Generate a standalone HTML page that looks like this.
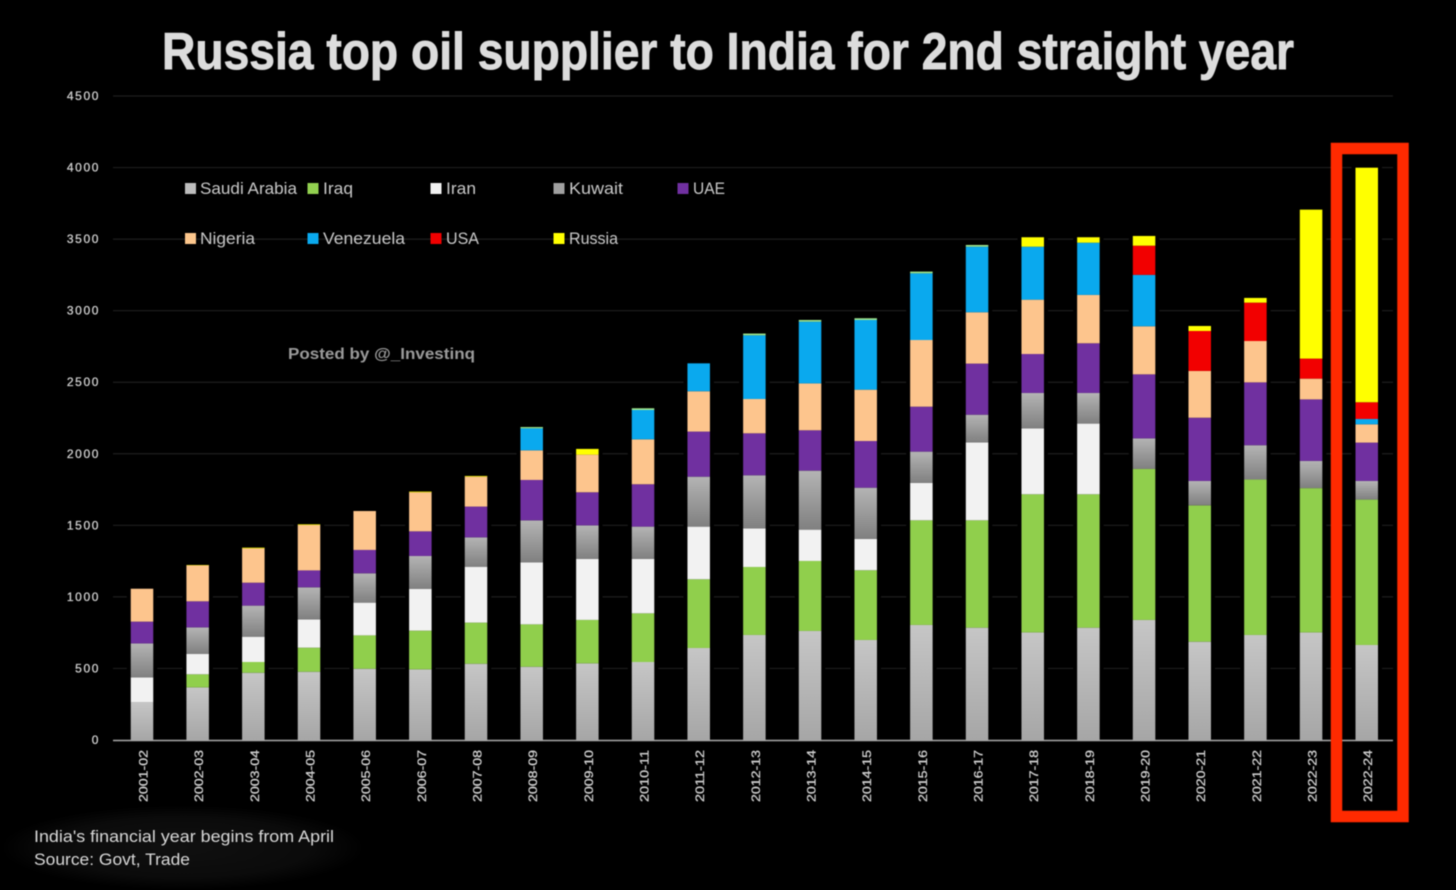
<!DOCTYPE html>
<html lang="en">
<head>
<meta charset="utf-8">
<title>Russia top oil supplier to India for 2nd straight year</title>
<style>
html,body{margin:0;padding:0;background:#000;width:1456px;height:890px;overflow:hidden}
svg{display:block;filter:blur(0.4px)}
text{font-family:"Liberation Sans",sans-serif}
</style>
</head>
<body>
<svg id="chart" xmlns="http://www.w3.org/2000/svg" width="1456" height="890" viewBox="0 0 1456 890">
  <defs>
    <linearGradient id="saudi-gradient" x1="0" y1="0" x2="0" y2="1">
      <stop offset="0" stop-color="#c6c6c6"/><stop offset="1" stop-color="#a6a6a6"/>
    </linearGradient>
    <linearGradient id="kuwait-gradient" x1="0" y1="0" x2="0" y2="1">
      <stop offset="0" stop-color="#b4b4b4"/><stop offset="1" stop-color="#808080"/>
    </linearGradient>
    <radialGradient id="footnote-gradient" cx="0.5" cy="0.5" r="0.5">
      <stop offset="0" stop-color="#101010"/><stop offset="0.7" stop-color="#0b0b0b"/><stop offset="1" stop-color="#000"/>
    </radialGradient>
  </defs>
  <rect x="0" y="0" width="1456" height="890" fill="#000"/>
  <text x="162" y="69" font-size="52" font-weight="700" fill="#dcdcdc" stroke="#dcdcdc" stroke-width="0.9" textLength="1132" lengthAdjust="spacingAndGlyphs">Russia top oil supplier to India for 2nd straight year</text>
  <g id="grid"></g>
  <g id="yticks"></g>
  <g id="bars"></g>
  <line x1="113" y1="740.5" x2="1393" y2="740.5" stroke="#a8a8a8" stroke-width="1.5"/>
  <g id="xticks"></g>

  <g font-size="16.5" fill="#c8c8c8">
    <g><rect x="185" y="183" width="11" height="11" fill="#bdbdbd"/><text x="200" y="194" textLength="97" lengthAdjust="spacingAndGlyphs">Saudi Arabia</text></g>
    <g><rect x="307.500" y="183" width="11" height="11" fill="#92d050"/><text x="323" y="194" textLength="30" lengthAdjust="spacingAndGlyphs">Iraq</text></g>
    <g><rect x="430.500" y="183" width="11" height="11" fill="#f2f2f2"/><text x="446" y="194" textLength="30" lengthAdjust="spacingAndGlyphs">Iran</text></g>
    <g><rect x="553.500" y="183" width="11" height="11" fill="#a0a0a0"/><text x="569" y="194" textLength="54" lengthAdjust="spacingAndGlyphs">Kuwait</text></g>
    <g><rect x="677.500" y="183" width="11" height="11" fill="#7030a0"/><text x="693" y="194" textLength="32" lengthAdjust="spacingAndGlyphs">UAE</text></g>
    <g><rect x="185" y="233" width="11" height="11" fill="#fcc68c"/><text x="200" y="244" textLength="55" lengthAdjust="spacingAndGlyphs">Nigeria</text></g>
    <g><rect x="307.500" y="233" width="11" height="11" fill="#0aa9ee"/><text x="323" y="244" textLength="82" lengthAdjust="spacingAndGlyphs">Venezuela</text></g>
    <g><rect x="430.500" y="233" width="11" height="11" fill="#f00000"/><text x="446" y="244" textLength="33" lengthAdjust="spacingAndGlyphs">USA</text></g>
    <g><rect x="553.500" y="233" width="11" height="11" fill="#ffff00"/><text x="569" y="244" textLength="49" lengthAdjust="spacingAndGlyphs">Russia</text></g>
  </g>

  <text x="288" y="359" font-size="16" font-weight="700" fill="#9a9a9a" textLength="187" lengthAdjust="spacingAndGlyphs">Posted by @_Investinq</text>

  <rect x="1336.500" y="148.500" width="66.500" height="668" fill="none" stroke="#ff2a00" stroke-width="11.500"/>

  <rect x="0" y="805" width="365" height="85" fill="url(#footnote-gradient)"/>
  <text x="34" y="842" font-size="17" fill="#d8d8d8" textLength="300" lengthAdjust="spacingAndGlyphs">India's financial year begins from April</text>
  <text x="34" y="865" font-size="17" fill="#d8d8d8" textLength="156" lengthAdjust="spacingAndGlyphs">Source: Govt, Trade</text>
</svg>

<script>
const categories = ["2001-02","2002-03","2003-04","2004-05","2005-06","2006-07","2007-08","2008-09","2009-10","2010-11","2011-12","2012-13","2013-14","2014-15","2015-16","2016-17","2017-18","2018-19","2019-20","2020-21","2021-22","2022-23","2022-24"];
const yTickLabels = [0,500,1000,1500,2000,2500,3000,3500,4000,4500];

const saudiArabia = [263,368,470,477,498,494,533,512,536,545,643,734,762,699,804,785,752,785,839,687,734,752,664];
const iraq = [0,91,75,168,233,270,287,296,303,340,480,475,489,487,731,750,965,932,1055,953,1086,1008,1016];
const iran = [175,142,177,198,229,293,391,434,426,380,368,270,219,219,261,545,461,494,0,0,0,0,0];
const kuwait = [237,186,217,224,205,229,205,293,235,226,349,371,412,358,219,193,247,214,214,170,240,190,130];
const uae = [152,182,160,118,163,172,215,282,231,296,315,293,282,326,314,357,272,347,447,442,439,430,268];
const nigeria = [230,251,240,317,272,273,209,207,263,314,282,240,328,359,466,359,380,338,336,327,289,145,128];
const venezuela = [0,0,0,0,0,0,0,154,0,205,195,445,431,487,466,458,370,365,359,0,0,0,37];
const usa = [0,0,0,0,0,0,0,0,0,0,0,0,0,0,0,0,0,0,204,279,268,140,117];
const russia = [0,3,5,5,0,5,5,0,40,0,0,0,0,0,0,0,66,38,68,35,33,1041,1639];
const otherSliver = [0,0,0,0,0,0,0,9,0,12,0,12,12,12,12,12,0,0,0,0,0,0,0];

const seriesList = [
  {key:"saudi-arabia", values:saudiArabia, fill:"url(#saudi-gradient)"},
  {key:"iraq", values:iraq, fill:"#90cf4c"},
  {key:"iran", values:iran, fill:"#f2f2f2"},
  {key:"kuwait", values:kuwait, fill:"url(#kuwait-gradient)"},
  {key:"uae", values:uae, fill:"#7030a0"},
  {key:"nigeria", values:nigeria, fill:"#fdc58d"},
  {key:"venezuela", values:venezuela, fill:"#0aa9ee"},
  {key:"usa", values:usa, fill:"#f20000"},
  {key:"russia", values:russia, fill:"#ffff00"},
  {key:"other", values:otherSliver, fill:"#a0e88e"}
];

const NS = "http://www.w3.org/2000/svg";
const yZero = 740;
const yTop = 96;
const yMax = 4500;
const firstCenter = 142;
const step = 55.67;
const barWidth = 22.5;

function yScale(v){ return yZero - (v / yMax) * (yZero - yTop); }
function xScale(i){ return firstCenter + i * step; }

const gridGroup = document.getElementById("grid");
const yTickGroup = document.getElementById("yticks");
yTickLabels.forEach(function(t){
  const y = yScale(t);
  if (t > 0) {
    const line = document.createElementNS(NS, "line");
    
    
    line.setAttribute("x1", 113);
    line.setAttribute("x2", 1393);
    line.setAttribute("y1", y);
    line.setAttribute("y2", y);
    line.setAttribute("stroke", "#1e1e1e");
    line.setAttribute("stroke-width", "1.2");
    gridGroup.appendChild(line);
  }
  const label = document.createElementNS(NS, "text");
  
  
  label.setAttribute("x", 100);
  label.setAttribute("y", y + 4);
  label.setAttribute("text-anchor", "end");
  label.setAttribute("font-size", "12");
  label.setAttribute("letter-spacing", "1.6");
  label.setAttribute("fill", "#cfcfcf");
  label.setAttribute("stroke", "#cfcfcf");
  label.setAttribute("stroke-width", "0.3");
  label.textContent = String(t);
  yTickGroup.appendChild(label);
});

const barGroup = document.getElementById("bars");
const xTickGroup = document.getElementById("xticks");
categories.forEach(function(cat, i){
  const cx = xScale(i);
  let total = 0;
  seriesList.forEach(function(s){ total += s.values[i]; });

  const halo = document.createElementNS(NS, "rect");
  
  
  halo.setAttribute("x", cx - barWidth / 2 - 4);
  halo.setAttribute("y", yScale(total) - 3);
  halo.setAttribute("width", barWidth + 8);
  halo.setAttribute("height", yZero - yScale(total) + 3);
  halo.setAttribute("fill", "#000");
  barGroup.appendChild(halo);

  let cumulative = 0;
  seriesList.forEach(function(s){
    const v = s.values[i];
    if (v <= 0) return;
    const yBottom = yScale(cumulative);
    const yUpper = yScale(cumulative + v);
    const rect = document.createElementNS(NS, "rect");
    
    
    rect.setAttribute("data-series", s.key);
    rect.setAttribute("data-category", cat);
    rect.setAttribute("x", cx - barWidth / 2);
    rect.setAttribute("y", yUpper);
    rect.setAttribute("width", barWidth);
    rect.setAttribute("height", yBottom - yUpper);
    rect.setAttribute("fill", s.fill);
    barGroup.appendChild(rect);
    cumulative += v;
  });

  const tick = document.createElementNS(NS, "text");
  
  
  tick.setAttribute("transform", "translate(" + (cx + 5.5) + ",802) rotate(-90)");
  tick.setAttribute("font-size", "12");
  tick.setAttribute("fill", "#cfcfcf");
  tick.setAttribute("stroke", "#cfcfcf");
  tick.setAttribute("stroke-width", "0.3");
  tick.setAttribute("textLength", "52");
  tick.setAttribute("lengthAdjust", "spacingAndGlyphs");
  tick.textContent = cat;
  xTickGroup.appendChild(tick);
});
</script>
</body>
</html>
